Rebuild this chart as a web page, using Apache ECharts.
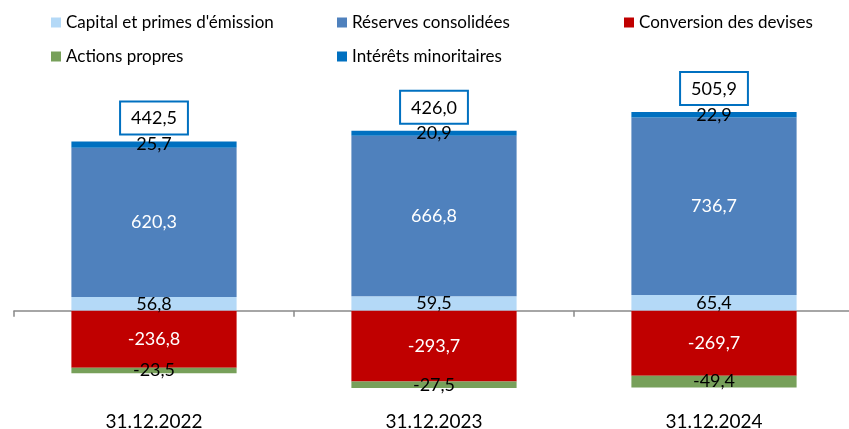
<!DOCTYPE html>
<html>
<head>
<meta charset="utf-8">
<script src="https://cdn.jsdelivr.net/npm/echarts@6/dist/echarts.min.js"></script>
<style>
  html, body { margin: 0; padding: 0; background: #fff; }
  #chart { width: 849px; height: 429px; }
</style>
</head>
<body>
<div id="chart"></div>
<script>
// Equity components per closing date (millions)
const categories = ['31.12.2022', '31.12.2023', '31.12.2024'];
const capital = [56.8, 59.5, 65.4];
const reserves = [620.3, 666.8, 736.7];
const conversion = [-236.8, -293.7, -269.7];
const actions = [-23.5, -27.5, -49.4];
const minoritaires = [25.7, 20.9, 22.9];

const seriesNames = [
  'Capital et primes d\'émission',
  'Réserves consolidées',
  'Conversion des devises',
  'Actions propres',
  'Intérêts minoritaires'
];
const colors = ['#B4D9F7', '#4F81BD', '#C00000', '#77A05A', '#0070C0'];

const allSeries = [capital, reserves, conversion, actions, minoritaires];
// Height of the positive stack (where the total box sits) and the net total
const positiveTop = categories.map((_, i) =>
  allSeries.reduce((s, arr) => s + Math.max(arr[i], 0), 0));
const netTotal = categories.map((_, i) =>
  allSeries.reduce((s, arr) => s + arr[i], 0));

const fmt = v => v.toFixed(1).replace('.', ',');
const FONT = 'Lato, "Open Sans", sans-serif';

function barSeries(idx, data, labelColor) {
  return {
    name: seriesNames[idx],
    type: 'bar',
    stack: 'total',
    barWidth: '59%',
    data: data,
    itemStyle: { color: colors[idx] },
    label: {
      show: true,
      position: 'inside',
      color: labelColor,
      fontSize: 18,
      fontFamily: FONT,
      formatter: p => fmt(p.value)
    },
    emphasis: { disabled: true }
  };
}

// One legend block per entry, laid out on a two-row grid
const legendPos = [
  { left: 51, top: 14 },
  { left: 337, top: 14 },
  { left: 624, top: 14 },
  { left: 51, top: 48 },
  { left: 337, top: 48 }
];
const legends = seriesNames.map((n, i) => ({
  data: [n],
  left: legendPos[i].left,
  top: legendPos[i].top,
  padding: 0,
  itemWidth: 10,
  itemHeight: 10,
  icon: 'rect',
  selectedMode: false,
  textStyle: { fontSize: 17, fontFamily: FONT, color: '#000' }
}));

const chart = echarts.init(document.getElementById('chart'));
chart.setOption({
  animation: false,
  backgroundColor: '#fff',
  legend: legends,
  grid: { left: 14, top: 94, width: 840, bottom: 22, containLabel: false, outerBoundsMode: 'none' },
  xAxis: [
    {
      type: 'category',
      data: categories,
      axisLine: { onZero: true, lineStyle: { color: '#898989', width: 1.5 } },
      axisTick: { show: true, length: 6, lineStyle: { color: '#898989', width: 1.5 } },
      axisLabel: { show: false }
    },
    {
      type: 'category',
      data: categories,
      position: 'bottom',
      axisLine: { show: false, onZero: false },
      axisTick: { show: false },
      axisLabel: { show: true, margin: 5, fontSize: 19, fontFamily: FONT, color: '#000' }
    }
  ],
  yAxis: {
    type: 'value',
    min: -400,
    max: 900,
    show: false,
    splitLine: { show: false }
  },
  series: [
    barSeries(0, capital, '#000'),
    barSeries(1, reserves, '#fff'),
    barSeries(2, conversion, '#fff'),
    barSeries(3, actions, '#000'),
    barSeries(4, minoritaires, '#000'),
    {
      name: 'total',
      type: 'scatter',
      data: positiveTop,
      symbolSize: 0,
      z: 10,
      itemStyle: { opacity: 1 },
      label: {
        show: true,
        position: 'top',
        distance: 8,
        formatter: p => fmt(netTotal[p.dataIndex]),
        fontSize: 18,
        fontFamily: FONT,
        color: '#000',
        backgroundColor: '#fff',
        borderColor: '#0070C0',
        borderWidth: 2,
        padding: [7, 10, 6, 10]
      },
      emphasis: { disabled: true }
    }
  ]
});
</script>
</body>
</html>
